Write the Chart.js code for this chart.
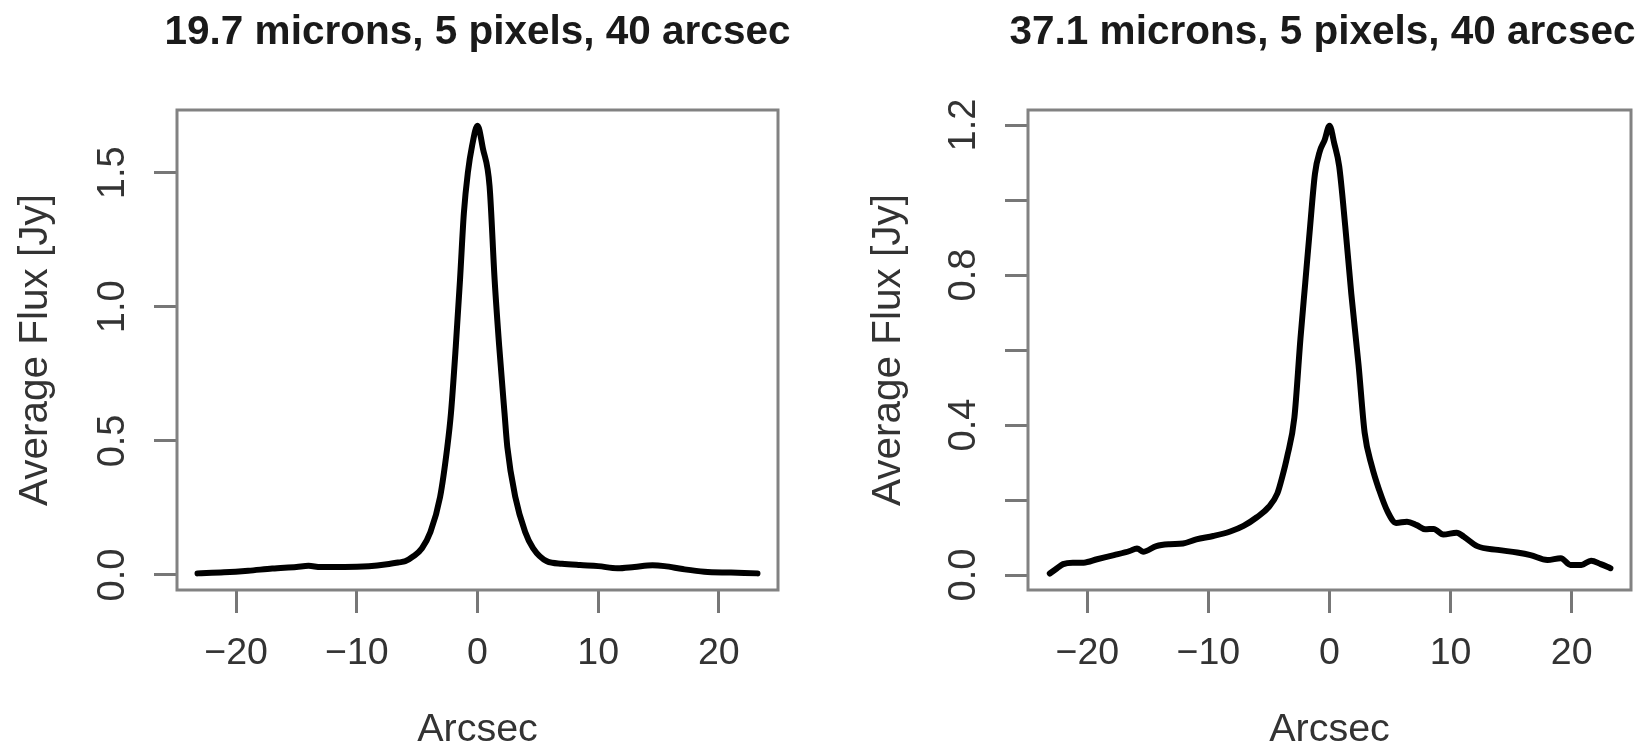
<!DOCTYPE html>
<html>
<head>
<meta charset="utf-8">
<script src="https://cdn.jsdelivr.net/npm/chart.js@4.4.1/dist/chart.umd.min.js"></script>
<style>
  html, body { margin: 0; padding: 0; background: #fff; overflow: hidden; }
  canvas { position: absolute; top: 0; }
  #left { left: 0; }
  #right { left: 825px; }
</style>
</head>
<body>
<canvas id="left" width="825" height="749"></canvas>
<canvas id="right" width="824" height="749"></canvas>
<script>
const FONT = "'Liberation Sans', Arial, Helvetica, sans-serif";

const xTicks = [-20, -10, 0, 10, 20];

// 19.7 microns profile
const arcsecA = [-23.2, -21, -19, -17, -15, -14, -13, -11, -9, -7.5, -6.5, -6.0, -5.3, -4.6, -3.9, -3.1, -2.5, -2.2, -1.8, -1.45, -1.13, -0.8, -0.45, 0,
  0.45, 1.0, 1.42, 1.8, 2.24, 2.47, 3.13, 3.95, 4.6, 5.75, 7.0, 8.5, 10, 11.6, 13, 14.5, 15.5, 17, 18.8, 21, 23.2];
const fluxA = [0.006, 0.010, 0.016, 0.024, 0.030, 0.034, 0.030, 0.030, 0.033, 0.040, 0.047, 0.051, 0.070, 0.100, 0.160, 0.291, 0.478, 0.603, 0.852, 1.10, 1.349, 1.50, 1.60, 1.675,
  1.59, 1.45, 1.10, 0.852, 0.603, 0.478, 0.291, 0.160, 0.100, 0.051, 0.042, 0.037, 0.033, 0.025, 0.030, 0.036, 0.033, 0.022, 0.012, 0.009, 0.006];
const yTicksA = [0, 0.5, 1.0, 1.5];
const yLabelsA = [0, 0.5, 1.0, 1.5];

// 37.1 microns profile
const arcsecB = [-23.1, -22.5, -22.0, -21.2, -20.3, -19.2, -17.8, -16.5, -15.9, -15.4, -14.3, -13.2, -12.1, -11.0, -9.6, -8.2, -7.1, -6.0, -5.0, -4.3, -3.9, -3.5, -2.9, -2.4, -2.0, -1.6, -1.2, -0.8, -0.4, 0,
  0.4, 0.8, 1.3, 1.8, 2.4, 2.9, 3.5, 4.1, 4.8, 5.5, 6.4, 7.2, 7.9, 8.6, 9.4, 10.5, 11.1, 12.2, 13.9, 15.5, 16.6, 18.0, 19.1, 19.9, 20.8, 21.6, 22.4, 23.2];
const fluxB = [0.004, 0.018, 0.029, 0.033, 0.033, 0.042, 0.053, 0.064, 0.071, 0.062, 0.077, 0.082, 0.084, 0.095, 0.104, 0.116, 0.131, 0.154, 0.182, 0.218, 0.262, 0.315, 0.42, 0.63, 0.78, 0.93, 1.07, 1.13, 1.16, 1.198,
  1.15, 1.09, 0.93, 0.75, 0.56, 0.38, 0.29, 0.227, 0.169, 0.139, 0.142, 0.133, 0.122, 0.123, 0.108, 0.113, 0.102, 0.077, 0.067, 0.060, 0.053, 0.040, 0.045, 0.027, 0.027, 0.038, 0.029, 0.018];
const yTicksB = [0, 0.2, 0.4, 0.6, 0.8, 1.0, 1.2];
const yLabelsB = [0, 0.4, 0.8, 1.2];

// box around plot, title over the plot region, y labels turned like R does
const rFrame = {
  id: 'rFrame',
  afterDraw(chart, args, opts) {
    const { ctx, chartArea: a } = chart;
    const y = chart.scales.y;
    ctx.save();
    ctx.strokeStyle = '#828282';
    ctx.lineWidth = 3;
    ctx.strokeRect(a.left, a.top, a.right - a.left, a.bottom - a.top);

    ctx.textAlign = 'center';
    ctx.textBaseline = 'middle';
    ctx.fillStyle = '#1a1a1a';
    ctx.font = 'bold 40.5px ' + FONT;
    ctx.fillText(opts.title, (a.left + a.right) / 2 + opts.titleShift, 33);

    ctx.fillStyle = '#333';
    ctx.font = '38px ' + FONT;
    opts.labels.forEach(v => {
      ctx.save();
      ctx.translate(a.left - 63, y.getPixelForValue(v));
      ctx.rotate(-Math.PI / 2);
      ctx.fillText(v.toFixed(1), 0, 0);
      ctx.restore();
    });
    ctx.restore();
  }
};

function makeChart(id, cfg) {
  const tickGrid = { display: true, drawOnChartArea: false, drawTicks: true, tickLength: 23, color: '#777', lineWidth: 3 };
  return new Chart(document.getElementById(id), {
    type: 'line',
    data: {
      datasets: [{
        data: cfg.x.map((x, i) => ({ x: x, y: cfg.y[i] })),
        borderColor: '#000',
        borderWidth: 6,
        pointRadius: 0,
        cubicInterpolationMode: 'monotone',
        borderCapStyle: 'round',
        borderJoinStyle: 'round',
        fill: false
      }]
    },
    options: {
      responsive: false,
      animation: false,
      devicePixelRatio: 1,
      events: [],
      layout: { padding: { left: 0, right: cfg.padRight, top: 110, bottom: 0 } },
      plugins: {
        legend: { display: false },
        tooltip: { enabled: false },
        title: { display: false },
        rFrame: { labels: cfg.yLabels, title: cfg.title, titleShift: cfg.titleShift }
      },
      scales: {
        x: {
          type: 'linear',
          min: -24.9,
          max: 24.9,
          afterBuildTicks: s => { s.ticks = xTicks.map(v => ({ value: v })); },
          afterFit: s => { s.height = 159; },
          border: { display: false },
          grid: tickGrid,
          ticks: {
            color: '#333',
            font: { family: FONT, size: 37.5 },
            padding: 18,
            maxRotation: 0,
            callback: v => String(v).replace('-', '\u2212')
          },
          title: {
            display: true,
            text: 'Arcsec',
            color: '#333',
            font: { family: FONT, size: 39.5, lineHeight: 1.2 },
            padding: { top: 0, bottom: -5 }
          }
        },
        y: {
          type: 'linear',
          min: cfg.yMin,
          max: cfg.yMax,
          afterBuildTicks: s => { s.ticks = cfg.yTicks.map(v => ({ value: v })); },
          afterFit: s => { s.width = cfg.yWidth; },
          border: { display: false },
          grid: tickGrid,
          ticks: { display: false },
          title: {
            display: true,
            text: 'Average Flux [Jy]',
            color: '#333',
            font: { family: FONT, size: 40.5, lineHeight: 1.2 },
            padding: { top: cfg.yTitlePad, bottom: 0 }
          }
        }
      }
    },
    plugins: [rFrame]
  });
}

makeChart('left', {
  title: '19.7 microns, 5 pixels, 40 arcsec',
  x: arcsecA, y: fluxA,
  yTicks: yTicksA, yLabels: yLabelsA,
  yMin: -0.056, yMax: 1.734,
  yWidth: 177, padRight: 47, yTitlePad: 12, titleShift: 0
});

makeChart('right', {
  title: '37.1 microns, 5 pixels, 40 arcsec',
  x: arcsecB, y: fluxB,
  yTicks: yTicksB, yLabels: yLabelsB,
  yMin: -0.04, yMax: 1.24,
  yWidth: 203, padRight: 18, yTitlePad: 40, titleShift: -7
});
</script>
</body>
</html>
